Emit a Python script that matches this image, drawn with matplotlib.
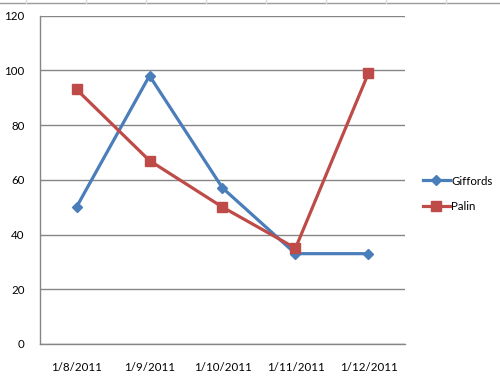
import matplotlib
matplotlib.use("Agg")
import matplotlib.pyplot as plt
from matplotlib.lines import Line2D

categories = ["1/8/2011", "1/9/2011", "1/10/2011", "1/11/2011", "1/12/2011"]
giffords = [50, 98, 57, 33, 33]
palin = [93, 67, 50, 35, 99]
yticks = [0, 20, 40, 60, 80, 100, 120]

plt.rcParams['font.family'] = ['Lato', 'DejaVu Sans']

W, H = 500, 382
fig = plt.figure(figsize=(W/100, H/100), dpi=100)
ax = fig.add_axes([40/W, 1-344/H, 365/W, (344-15.5)/H])

x = list(range(len(categories)))
blue = "#4A7EBB"
red = "#BE4B48"
ax.plot(x, giffords, color=blue, lw=2.3, marker="D", ms=5.5, mec=blue, mfc=blue, label="Giffords", zorder=3)
ax.plot(x, palin, color=red, lw=2.3, marker="s", ms=6.5, mec=red, mfc=red, label="Palin", zorder=3)

ax.set_xlim(-0.5, len(categories)-0.5)
ax.set_ylim(0, 120)
ax.set_yticks(yticks)
ax.set_xticks(x)
ax.set_xticklabels(categories)
ax.yaxis.grid(True, color="#868686", lw=1)
ax.set_axisbelow(True)
for s in ["top", "right"]:
    ax.spines[s].set_visible(False)
for s in ["left", "bottom"]:
    ax.spines[s].set_color("#868686")
    ax.spines[s].set_linewidth(1)
ax.tick_params(axis="both", length=0, labelsize=8.3, colors="black")
ax.tick_params(axis="x", pad=13)
ax.tick_params(axis="y", pad=11)

handles = [Line2D([0], [0], color=blue, lw=2.3, marker="D", ms=5.5),
           Line2D([0], [0], color=red, lw=2.3, marker="s", ms=6.5)]
fig.legend(handles, ["Giffords", "Palin"], loc="center left",
           bbox_to_anchor=(423/W, 1-194/H), frameon=False, fontsize=8.3,
           borderpad=0, borderaxespad=0,
           handlelength=2.3, handletextpad=0.15, labelspacing=1.3)

# spreadsheet cell borders at top
fig.add_artist(Line2D([0, 1], [1-2.5/H, 1-2.5/H], color="#9a9a9a", lw=1))
for vx in [26, 86, 146, 206, 266, 326, 386, 446]:
    fig.add_artist(Line2D([vx/W, vx/W], [1-2.5/H, 1], color="#dadada", lw=1))

fig.savefig("out.png", dpi=100)
